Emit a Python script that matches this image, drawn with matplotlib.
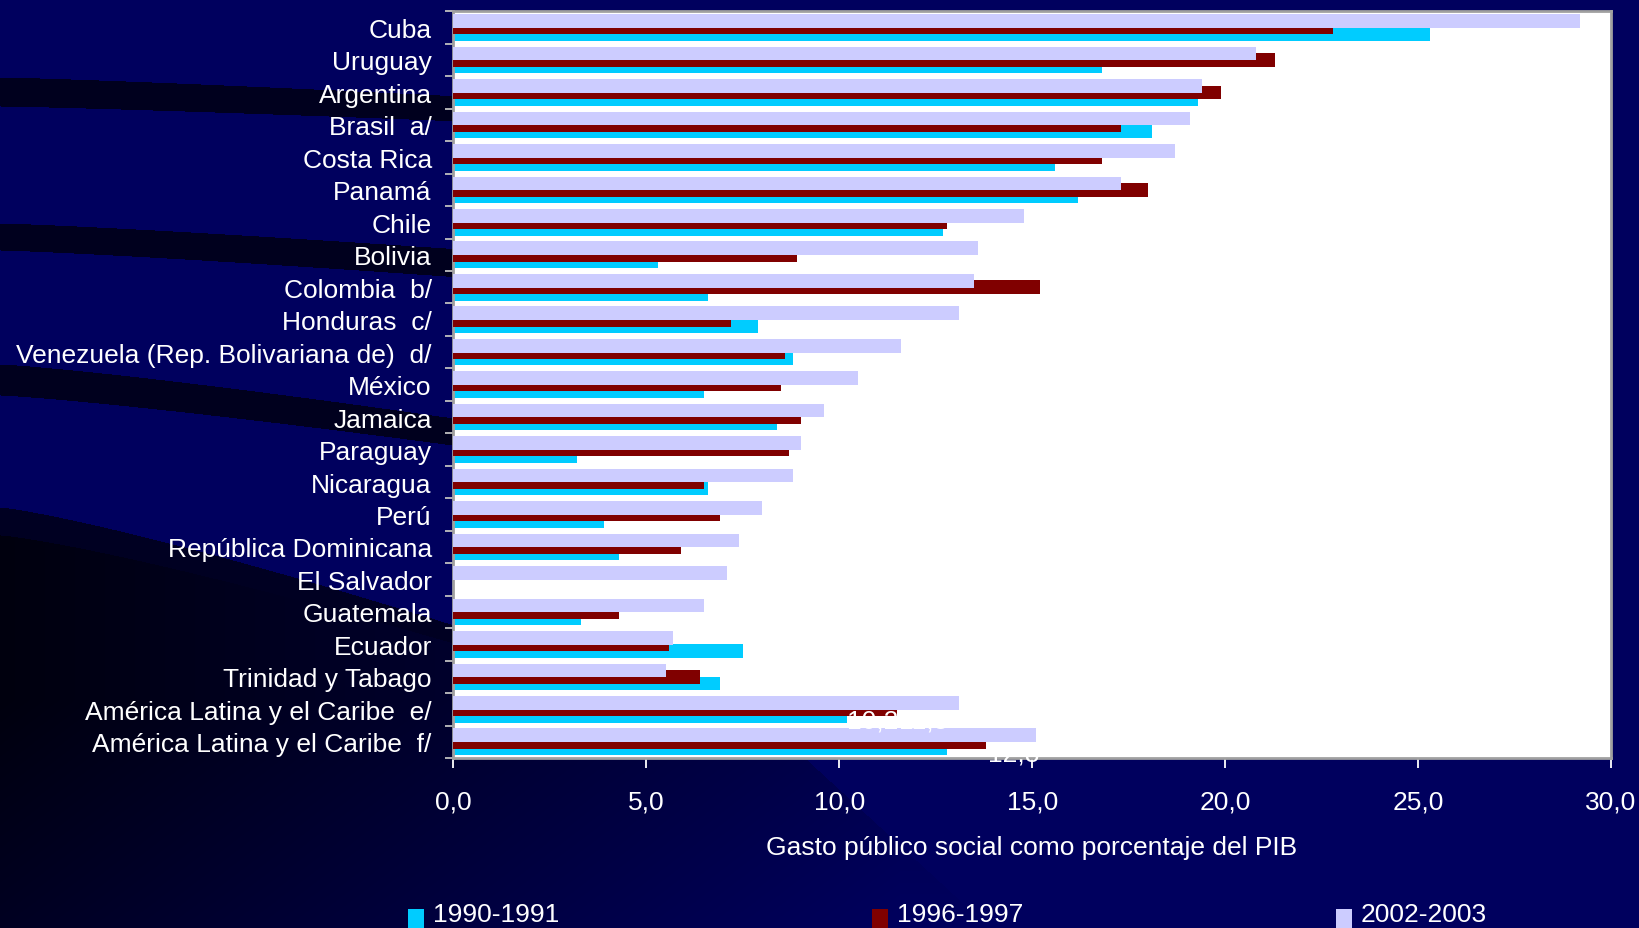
import matplotlib
matplotlib.use('Agg')
import matplotlib.pyplot as plt
import numpy as np

plt.rcParams['font.family'] = ['Liberation Sans', 'DejaVu Sans']

categories = ["Cuba", "Uruguay", "Argentina", "Brasil  a/", "Costa Rica", "Panamá", "Chile",
              "Bolivia", "Colombia  b/", "Honduras  c/", "Venezuela (Rep. Bolivariana de)  d/",
              "México", "Jamaica", "Paraguay", "Nicaragua", "Perú", "República Dominicana",
              "El Salvador", "Guatemala", "Ecuador", "Trinidad y Tabago",
              "América Latina y el Caribe  e/", "América Latina y el Caribe  f/"]
v1990 = [25.3, 16.8, 19.3, 18.1, 15.6, 16.2, 12.7, 5.3, 6.6, 7.9, 8.8, 6.5, 8.4, 3.2, 6.6,
         3.9, 4.3, 0.0, 3.3, 7.5, 6.9, 10.2, 12.8]
v1996 = [22.8, 21.3, 19.9, 17.3, 16.8, 18.0, 12.8, 8.9, 15.2, 7.2, 8.6, 8.5, 9.0, 8.7, 6.5,
         6.9, 5.9, 0.0, 4.3, 5.6, 6.4, 11.5, 13.8]
v2002 = [29.2, 20.8, 19.4, 19.1, 18.7, 17.3, 14.8, 13.6, 13.5, 13.1, 11.6, 10.5, 9.6, 9.0, 8.8,
         8.0, 7.4, 7.1, 6.5, 5.7, 5.5, 13.1, 15.1]
series_names = ["1990-1991", "1996-1997", "2002-2003"]
xticks = [0, 5, 10, 15, 20, 25, 30]
xlabel = "Gasto público social como porcentaje del PIB"

C_CYAN = '#00CCFF'
C_RED = '#800000'
C_LAV = '#CCCCFF'
NAVY = np.array([0, 0, 94]) / 255.0

W, H = 1639, 929
fig = plt.figure(figsize=(W / 100, H / 100), dpi=100)
fig.patch.set_facecolor(NAVY)

# ---- decorative background (swooshes) ----
bg = fig.add_axes([0, 0, 1, 1], zorder=-10)
bg.set_axis_off()
yy, xx = np.mgrid[0:H, 0:W].astype(float)
img = np.zeros((H, W, 3))
img[..., 2] = 94 / 255.0
def band(top0, top1, bot0, bot1, x1=470.0):
    t = np.clip(xx / 460.0, 0, None)
    top = top0 + (top1 - top0) * t ** 1.2
    bot = bot0 + (bot1 - bot0) * t ** 1.2
    return (yy > top) & (yy < bot) & (xx < x1)
dark = 30 / 255.0
for m in [band(78, 97, 107, 122), band(224, 250, 251, 278), band(365, 420, 396, 447)]:
    img[m, 2] = dark
# big lower-left region
t = xx / 460.0
topD = np.where(xx <= 460, 508 + 120 * t ** 1.2,
                np.where(xx <= 806, 628 + (xx - 460) * (760 - 628) / (806 - 460),
                         760 + (xx - 806) * (929 - 760) / (990 - 806)))
mD = yy > topD
shade = (14 + 60 * np.clip(xx / 900.0, 0, 1) + 20 * np.clip((yy - 700) / 229.0, 0, 1)) / 255.0
img[mD, 2] = shade[mD]
mD1 = mD & (yy < topD + 28 - 10 * np.clip(t, 0, 1)) & (xx < 460)
img[mD1, 2] = 34 / 255.0
bg.imshow(img, extent=[0, 1, 0, 1], aspect='auto', origin='upper')
bg.set_xlim(0, 1); bg.set_ylim(0, 1)

# ---- main axes ----
ax = fig.add_axes([453.3 / W, 1 - 759 / H, (1611 - 453.3) / W, (759 - 12.3) / H])
ax.set_facecolor('white')
y = np.arange(len(categories))
h = 0.42
ax.barh(y + 0.2, v1990, height=h, color=C_CYAN, zorder=2, label=series_names[0])
ax.barh(y, v1996, height=h, color=C_RED, zorder=3, label=series_names[1])
ax.barh(y - 0.2, v2002, height=h, color=C_LAV, zorder=4, label=series_names[2])

ax.set_xlim(0, 30)
ax.set_ylim(len(categories) - 0.5, -0.5)
ax.set_yticks(y)
ax.set_yticklabels(categories, fontsize=19, color='white')
ax.set_yticks(np.arange(-0.5, len(categories), 1), minor=True)
ax.tick_params(axis='y', which='major', length=0, pad=15.5)
ax.tick_params(axis='y', which='minor', length=6, width=1.3, color='#c0c0c0', direction='out')
ax.set_xticks(xticks)
ax.set_xticklabels([f"{v:.1f}".replace('.', ',') for v in xticks], fontsize=19, color='white')
ax.tick_params(axis='x', length=7, width=1.3, color='white', pad=16)
for s in ax.spines.values():
    s.set_color('#a0a0a0')
    s.set_linewidth(2)

# white data labels (mostly hidden on white background)
def fmt(v):
    return f"{v:.1f}".replace('.', ',')
i = len(categories) - 2
ax.text(v1990[i], i + 0.36, fmt(v1990[i]), color='white', fontsize=19, ha='left', va='center', zorder=6, clip_on=False)
ax.text(v1996[i] + 0.05, i + 0.36, fmt(v1996[i]), color='white', fontsize=19, ha='left', va='center', zorder=6, clip_on=False)
j = len(categories) - 1
ax.text(v1996[j] + 0.05, j + 0.36, fmt(v1990[j]), color='white', fontsize=19, ha='left', va='center', zorder=6, clip_on=False)

fig.text(1032 / W, 1 - 855 / H, xlabel, color='white', fontsize=19, ha='center', va='baseline')

# legend
leg_x = [408, 871.5, 1336]
for xs, name, col in zip(leg_x, series_names, [C_CYAN, C_RED, C_LAV]):
    fig.patches.append(matplotlib.patches.Rectangle((xs / W, 0), 16 / W, 19 / H, transform=fig.transFigure,
                                                    facecolor=col, edgecolor='none', zorder=5))
    fig.text((xs + 25) / W, 1 - 922 / H, name, color='white', fontsize=19, ha='left', va='baseline')

fig.savefig('out.png', dpi=100, facecolor=fig.get_facecolor())
